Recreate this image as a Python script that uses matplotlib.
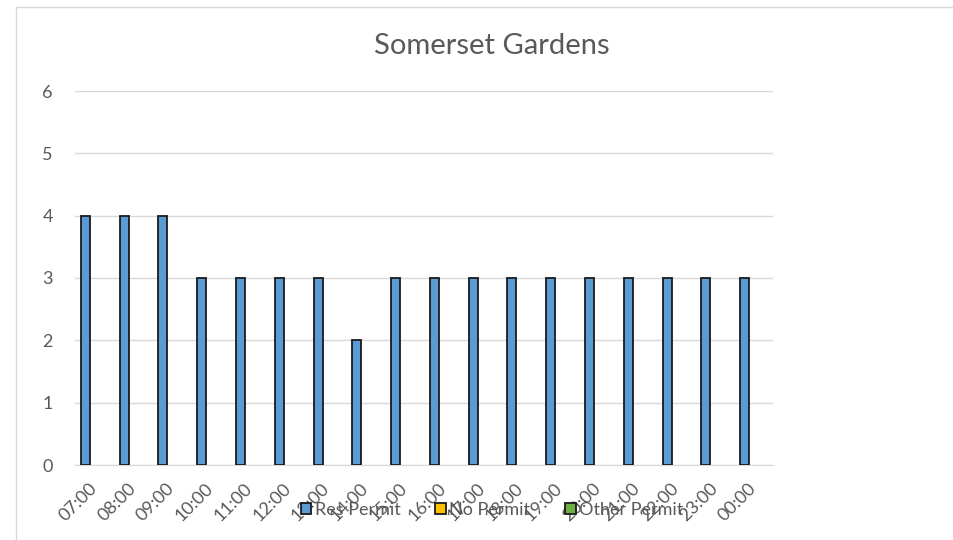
import matplotlib
matplotlib.use("Agg")
import matplotlib.pyplot as plt
import numpy as np
from matplotlib.lines import Line2D
from matplotlib.patches import Patch

categories = ["07:00", "08:00", "09:00", "10:00", "11:00", "12:00", "13:00", "14:00", "15:00",
              "16:00", "17:00", "18:00", "19:00", "20:00", "21:00", "22:00", "23:00", "00:00"]
res_permit = [4, 4, 4, 3, 3, 3, 3, 2, 3, 3, 3, 3, 3, 3, 3, 3, 3, 3]
no_permit = [0] * 18
other_permit = [0] * 18
series_names = ["Res Permit", "No Permit", "Other Permit"]
colors = ["#5b9bd5", "#ffc000", "#70ad47"]

W, H = 954, 540
plt.rcParams['font.family'] = ['Lato', 'DejaVu Sans']
fig = plt.figure(figsize=(W / 100, H / 100), dpi=100)

ax = fig.add_axes([75 / W, 1 - 465 / H, (773 - 75) / W, (465 - 91) / H])

x = np.arange(len(categories))
bw = 0.232
for i, (vals, c) in enumerate(zip([res_permit, no_permit, other_permit], colors)):
    lw = [1.3 if v != 0 else 0 for v in vals]
    ax.bar(x + (i - 1) * bw, vals, width=bw, color=c, edgecolor="#1a1a1a", linewidth=lw, zorder=3)

ax.set_xlim(-0.5, len(categories) - 0.5)
ax.set_ylim(0, 6)
ax.set_yticks(range(0, 7))
ax.yaxis.grid(True, color="#d9d9d9", linewidth=1, zorder=0)
for s in ["top", "right", "left"]:
    ax.spines[s].set_visible(False)
ax.spines["bottom"].set_color("#d9d9d9")
ax.tick_params(axis="both", length=0, colors="#595959", labelsize=13)
ax.tick_params(axis="y", pad=16)
ax.set_xticks(x)
ax.set_xticklabels(categories, rotation=45, ha="right", va="center", rotation_mode="anchor")
ax.tick_params(axis="x", pad=15)

fig.text(492 / W, 1 - 46 / H, "Somerset Gardens", ha="center", va="center", fontsize=21, color="#595959")

handles = [Patch(facecolor=c, edgecolor="#1a1a1a", linewidth=1.3) for c in colors]
fig.legend(handles, series_names, loc="center", bbox_to_anchor=(492 / W, 1 - 510 / H), ncol=3,
           frameon=False, fontsize=13, labelcolor="#595959", handlelength=0.6, handleheight=0.6,
           handletextpad=0.2, columnspacing=1.9)

fig.add_artist(Line2D([16 / W, 1], [1 - 7 / H, 1 - 7 / H], color="#d9d9d9", linewidth=1, transform=fig.transFigure))
fig.add_artist(Line2D([16 / W, 16 / W], [0, 1 - 7 / H], color="#d9d9d9", linewidth=1, transform=fig.transFigure))

fig.savefig("out.png", dpi=100)
